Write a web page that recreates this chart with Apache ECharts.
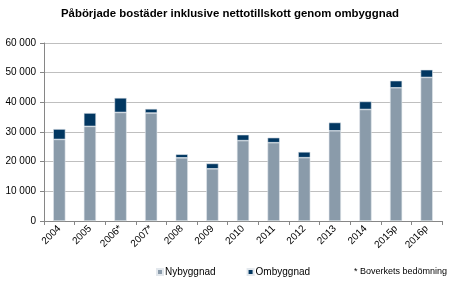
<!DOCTYPE html>
<html><head><meta charset="utf-8">
<script src="https://cdn.jsdelivr.net/npm/echarts@6/dist/echarts.min.js"></script>
<style>html,body{margin:0;padding:0;background:#fff}#c{width:460px;height:281px}</style>
</head><body><div id="c"></div>
<script>
const categories = ['2004','2005','2006*','2007*','2008','2009','2010','2011','2012','2013','2014','2015p','2016p'];
const nybyggnad = [27500,31900,36600,36400,21300,17600,27100,26400,21350,30400,37600,44900,48400];
const ombyggnad = [3500,4500,4900,1400,1200,1800,2000,1700,1950,2800,2700,2400,2600];
const yTicks = [0,10000,20000,30000,40000,50000,60000];

const chart = echarts.init(document.getElementById('c'));
const fontFamily = '"Liberation Sans", Arial, sans-serif';
chart.setOption({
  animation:false,
  textStyle:{fontFamily},
  title:{text:'Påbörjade bostäder inklusive nettotillskott genom ombyggnad',left:'center',top:3,
    textStyle:{fontSize:11.4,fontWeight:'bold',color:'#000',fontFamily}},
  grid:{left:44,right:18,top:43,bottom:60},
  legend:{top:262,left:151,itemWidth:6,itemHeight:6,itemGap:31,icon:'rect',
    textStyle:{fontSize:10,color:'#000',fontFamily,padding:[0,0,0,-3]},data:['Nybyggnad','Ombyggnad']},
  graphic:[{type:'text',left:354,top:267,style:{text:'* Boverkets bedömning',fontSize:9,fill:'#000',fontFamily}}],
  xAxis:{type:'category',data:categories,
    axisLine:{lineStyle:{color:'#868686'}},
    axisTick:{show:true,alignWithLabel:false,length:4,lineStyle:{color:'#868686'}},
    axisLabel:{rotate:45,fontSize:10,color:'#000',margin:6,interval:0}},
  yAxis:{type:'value',min:yTicks[0],max:yTicks[yTicks.length-1],interval:10000,
    axisLine:{show:true,lineStyle:{color:'#868686'}},
    axisTick:{show:true,length:4,lineStyle:{color:'#868686'}},
    splitLine:{lineStyle:{color:'#BFBFBF'}},
    axisLabel:{fontSize:10,color:'#000',margin:8,formatter:v=>String(v).replace(/\B(?=(\d{3})+(?!\d))/g,' ')}},
  series:[
    {name:'Nybyggnad',type:'bar',stack:'a',data:nybyggnad,barWidth:'40%',
      itemStyle:{color:'#8A9BAA',borderColor:'#E3E8ED',borderWidth:0.6}},
    {name:'Ombyggnad',type:'bar',stack:'a',data:ombyggnad,barWidth:'40%',
      itemStyle:{color:'#023761',borderColor:'#E3E8ED',borderWidth:0.6}}
  ]
});
</script></body></html>
